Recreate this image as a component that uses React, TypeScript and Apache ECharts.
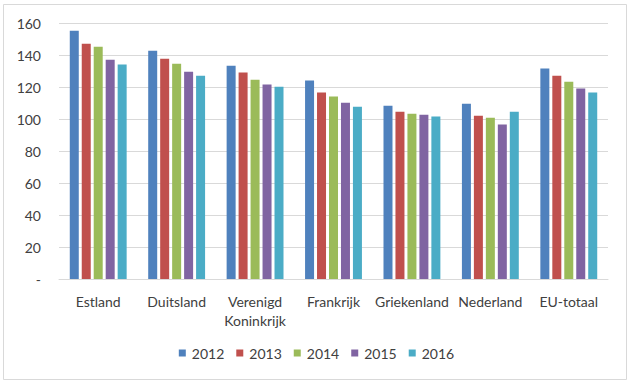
import React, { useEffect, useRef } from "react";
import * as echarts from "echarts";

const categories = ["Estland", "Duitsland", "Verenigd\nKoninkrijk", "Frankrijk", "Griekenland", "Nederland", "EU-totaal"];
const years = ["2012", "2013", "2014", "2015", "2016"];
const colors = ["#4F81BD", "#C0504D", "#9BBB59", "#8064A2", "#4BACC6"];
const v2012 = [155.2, 142.7, 133.3, 124.0, 108.3, 109.6, 131.5];
const v2013 = [147.1, 137.7, 129.0, 116.5, 104.6, 102.1, 127.1];
const v2014 = [145.2, 134.6, 124.6, 114.0, 103.3, 100.8, 123.3];
const v2015 = [137.1, 129.6, 121.5, 110.2, 102.7, 96.5, 119.0];
const v2016 = [134.0, 127.1, 120.2, 107.7, 101.5, 104.6, 116.5];
const seriesValues = [v2012, v2013, v2014, v2015, v2016];

const FONT = "Lato, 'Open Sans', sans-serif";

export default function App() {
  const ref = useRef<HTMLDivElement>(null);
  useEffect(() => {
    if (!ref.current) return;
    const chart = echarts.init(ref.current, null, { renderer: "svg" });
    chart.setOption({
      animation: false,
      color: colors,
      textStyle: { fontFamily: FONT },
      graphic: [
        {
          type: "rect",
          shape: { x: 3.5, y: 4.5, width: 623, height: 375 },
          style: { fill: "none", stroke: "#d9d9d9", lineWidth: 1 },
          silent: true,
        },
      ],
      grid: { left: 59, right: 25, top: 23, bottom: 106, containLabel: false },
      legend: {
        bottom: 20,
        left: "center",
        itemWidth: 7,
        itemHeight: 7,
        itemGap: 12,
        icon: "rect",
        textStyle: { color: "#404040", fontSize: 14, fontFamily: FONT, padding: [0, 0, 0, 1] },
        data: years,
      },
      xAxis: {
        type: "category",
        data: categories,
        axisTick: { show: false },
        axisLine: { lineStyle: { color: "#d9d9d9" } },
        axisLabel: { color: "#404040", fontSize: 14, margin: 13, lineHeight: 19, interval: 0, fontFamily: FONT },
      },
      yAxis: {
        type: "value",
        min: 0,
        max: 160,
        interval: 20,
        axisLine: { show: false },
        axisTick: { show: false },
        splitLine: { lineStyle: { color: "#d9d9d9" } },
        axisLabel: {
          color: "#404040",
          fontSize: 14,
          margin: 18,
          fontFamily: FONT,
          formatter: (v: number) => (v === 0 ? "-" : String(v)),
        },
      },
      series: years.map((y, i) => ({
        name: y,
        type: "bar",
        data: seriesValues[i],
        barWidth: 9,
        barGap: "33%",
        itemStyle: { color: colors[i] },
      })),
    });
    return () => chart.dispose();
  }, []);
  return (
    <div
      ref={ref}
      style={{ position: "absolute", left: 0, top: 0, width: 633, height: 385, background: "#fff" }}
    />
  );
}
